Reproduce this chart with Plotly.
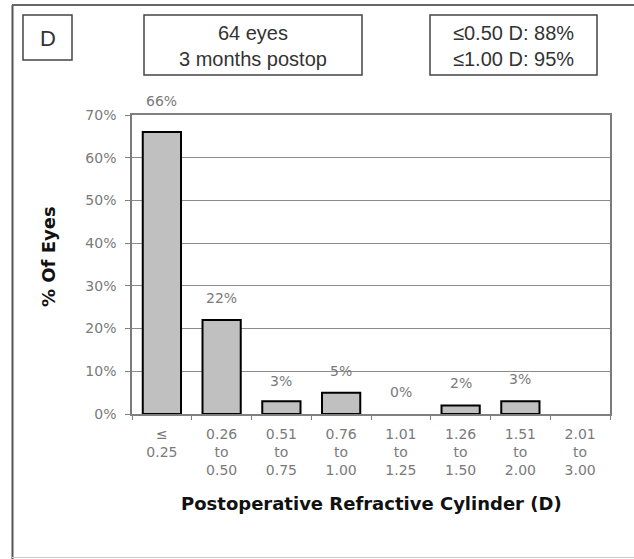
import plotly.graph_objects as go

# Distribution of postoperative refractive cylinder (64 eyes, 3 months)
categories = ["<=0.25", "0.26-0.50", "0.51-0.75", "0.76-1.00",
              "1.01-1.25", "1.26-1.50", "1.51-2.00", "2.01-3.00"]
tick_labels = ["≤<br>0.25", "0.26<br>to<br>0.50", "0.51<br>to<br>0.75",
               "0.76<br>to<br>1.00", "1.01<br>to<br>1.25", "1.26<br>to<br>1.50",
               "1.51<br>to<br>2.00", "2.01<br>to<br>3.00"]
percent_eyes = [66, 22, 3, 5, 0, 2, 3, None]
y_ticks = [0, 10, 20, 30, 40, 50, 60, 70]
y_tick_labels = ["0%", "10%", "20%", "30%", "40%", "50%", "60%", "70%"]

panel_letter = "D"
info_left = "64 eyes<br>3 months postop"
info_right = "≤0.50 D: 88%<br>≤1.00 D: 95%"

W, H = 634, 559
PL, PR, PT, PB = 132, 610, 115, 414


def px_x(x):
    return (x - PL) / (PR - PL)


def px_y(y):
    return (PB - y) / (PB - PT)


TICK_FONT = dict(family="DejaVu Sans", size=14, color="#7a7a7a")
TITLE_FONT = dict(family="DejaVu Sans", size=18, color="#111111")
BOX_FONT = dict(family="Liberation Sans, Arial", size=20, color="#333333")

# empty bins get no outline so nothing is drawn on the axis
outline_widths = [0 if not v else 2 for v in percent_eyes]

fig = go.Figure()
fig.add_trace(go.Bar(
    x=categories,
    y=percent_eyes,
    marker=dict(color="#c0c0c0", line=dict(color="#000000", width=outline_widths)),
    hoverinfo="skip",
))

annotations = []
# value labels above each bar (the tallest one sits a little higher)
label_shift = [31, 22, 20, 22, 22, 22, 22, 22]
for cat, val, sh in zip(categories, percent_eyes, label_shift):
    if val is None:
        continue
    annotations.append(dict(
        x=cat, y=val, xref="x", yref="y", text=f"{val}%", showarrow=False,
        yshift=sh, yanchor="middle", font=TICK_FONT,
    ))

# axis titles
annotations.append(dict(
    x=px_x(371), y=px_y(503), xref="paper", yref="paper",
    text="<b>Postoperative Refractive Cylinder (D)</b>", showarrow=False,
    xanchor="center", yanchor="middle", font=TITLE_FONT,
))
annotations.append(dict(
    x=px_x(48), y=px_y(257), xref="paper", yref="paper",
    text="<b>% Of Eyes</b>", showarrow=False, textangle=-90,
    xanchor="center", yanchor="middle", font=TITLE_FONT,
))

# header boxes
boxes = [
    (23, 15, 72, 60, panel_letter, 22),
    (144, 15, 362, 75, info_left, 20),
    (430, 15, 597, 75, info_right, 20),
]
shapes = []
for x0, y0, x1, y1, txt, fs in boxes:
    shapes.append(dict(
        type="rect", xref="paper", yref="paper",
        x0=px_x(x0), x1=px_x(x1), y0=px_y(y1), y1=px_y(y0),
        line=dict(color="#444444", width=1.5), fillcolor="rgba(0,0,0,0)",
    ))
    annotations.append(dict(
        x=px_x((x0 + x1) / 2), y=px_y((y0 + y1) / 2 + 1),
        xref="paper", yref="paper", text=txt, showarrow=False,
        xanchor="center", yanchor="middle", align="center",
        font=dict(BOX_FONT, size=fs),
    ))

# outer panel frame
shapes.append(dict(type="line", xref="paper", yref="paper",
                   x0=px_x(12.5), x1=px_x(12.5), y0=px_y(5), y1=px_y(559),
                   line=dict(color="#555555", width=2)))
shapes.append(dict(type="line", xref="paper", yref="paper",
                   x0=px_x(12), x1=px_x(640), y0=px_y(5), y1=px_y(5),
                   line=dict(color="#666666", width=2)))
shapes.append(dict(type="line", xref="paper", yref="paper",
                   x0=px_x(12), x1=px_x(640), y0=px_y(557.5), y1=px_y(557.5),
                   line=dict(color="#cccccc", width=1)))

fig.update_layout(
    width=W, height=H,
    margin=dict(l=PL, r=W - PR, t=PT, b=H - PB),
    paper_bgcolor="white", plot_bgcolor="white",
    showlegend=False,
    bargap=0.36,
    annotations=annotations,
    shapes=shapes,
    xaxis=dict(
        type="category", tickmode="array", tickvals=categories, ticktext=tick_labels,
        tickson="boundaries", ticks="outside", ticklen=4, tickcolor="#808080",
        tickfont=TICK_FONT, showline=True, linecolor="#808080", linewidth=1.5,
        mirror=True, showgrid=False, ticklabelstandoff=6,
    ),
    yaxis=dict(
        range=[0, 70], tickmode="array", tickvals=y_ticks, ticktext=y_tick_labels,
        ticks="outside", ticklen=5, tickcolor="#808080", tickfont=TICK_FONT,
        showline=True, linecolor="#7a7a7a", linewidth=1.5, mirror=True,
        showgrid=True, gridcolor="#8c8c8c", gridwidth=1, zeroline=False,
        ticklabelstandoff=6,
    ),
)

fig.write_html("out.html")
